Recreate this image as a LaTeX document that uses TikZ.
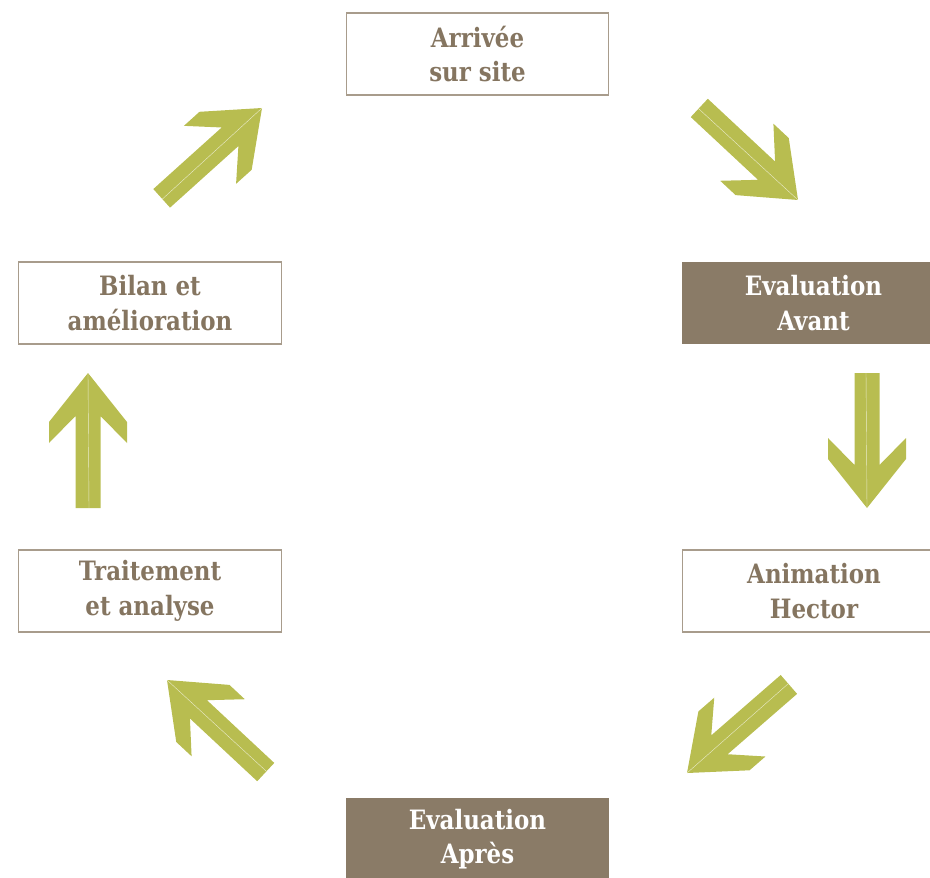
\documentclass[tikz,border=0pt]{standalone}
\usepackage{fontspec}
\newfontfamily\labelfont[FakeStretch=0.86]{DejaVu Serif}
\definecolor{arrowgreen}{RGB}{184,189,80}
\definecolor{boxbrown}{RGB}{138,123,103}
\definecolor{textbrown}{RGB}{133,117,96}
\definecolor{boxline}{RGB}{168,156,140}
\tikzset{
  stagebox/.style={draw=boxline, line width=0.8pt, fill=white, text=textbrown,
    minimum width=197pt, minimum height=61.5pt, align=center,
    font=\labelfont\bfseries\fontsize{20}{26}\selectfont},
  stagefill/.style={stagebox, draw=none, fill=boxbrown, text=white},
  blockarrow/.pic={
    \fill[arrowgreen] (-135,-12.5) -- (-43,-12.5) -- (-70,-39) -- (-49,-39) -- (0,0)
      -- (-49,39) -- (-70,39) -- (-43,12.5) -- (-135,12.5) -- cycle;
    \draw[white, opacity=0.7, line width=0.3pt] (-135,1) -- (0,0);
  }
}
\begin{document}
\begin{tikzpicture}[x=0.75pt, y=-0.75pt]
  \useasboundingbox (0,0) rectangle (930,877);
  \node[stagebox] (arrivee) at (477.5,54) {Arrivée\\sur site};
  \node[stagefill] (avant) at (813.5,303) {Evaluation\\Avant};
  \node[stagebox] (animation) at (814,591) {Animation\\Hector};
  \node[stagefill] (apres) at (477.5,839) {Evaluation\\Après};
  \node[stagebox] (traitement) at (150,591) {Traitement\\et analyse};
  \node[stagebox] (bilan) at (150,303) {Bilan et\\amélioration};
  \pic[rotate=-43] at (798,200) {blockarrow};
  \pic[rotate=-90] at (867,508) {blockarrow};
  \pic[rotate=-139] at (687,773) {blockarrow};
  \pic[rotate=137] at (167,680) {blockarrow};
  \pic[rotate=90] at (88,373) {blockarrow};
  \pic[rotate=42] at (262,108) {blockarrow};
\end{tikzpicture}
\end{document}
